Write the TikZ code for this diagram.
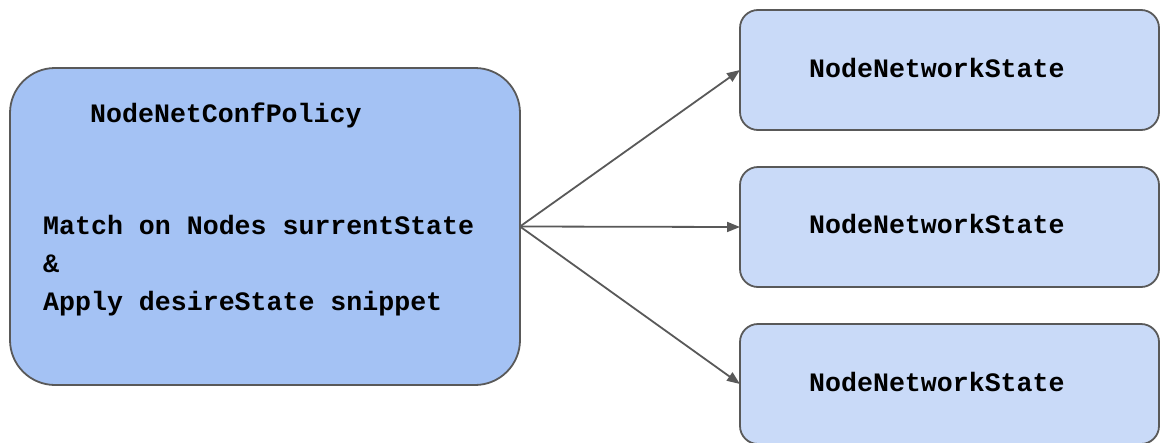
\documentclass[tikz,border=0pt]{standalone}
\usepackage{fontspec}
\setmonofont{Liberation Mono}
\usetikzlibrary{arrows.meta}
\definecolor{policyfill}{HTML}{A4C2F4}
\definecolor{statefill}{HTML}{C9DAF8}
\definecolor{edgegray}{HTML}{595959}
\tikzset{
  policybox/.style={draw=edgegray, line width=1.8pt, fill=policyfill,
    rounded corners=45pt, minimum width=510pt, minimum height=317pt,
    inner sep=0pt, outer sep=0pt},
  statebox/.style={draw=edgegray, line width=1.8pt, fill=statefill,
    rounded corners=18pt, minimum width=419pt, minimum height=120pt,
    inner sep=0pt, outer sep=0pt, anchor=north west},
  label/.style={font=\ttfamily\bfseries\fontsize{26.6}{38}\selectfont,
    anchor=base west, inner sep=0pt, text=black},
  flow/.style={draw=edgegray, line width=1.8pt,
    -{Triangle[length=13pt, width=10pt]}}
}
\begin{document}
\begin{tikzpicture}[x=1pt, y=1pt]
  \useasboundingbox (0,0) rectangle (1161,-442);
  \clip (0,0) rectangle (1161,-442);

  % policy box on the left
  \node[policybox] (policy) at (265,-226.5) {};
  \node[label] (ptitle) at (90,-122) {NodeNetConfPolicy};
  \node[label] (pl1) at (43,-234) {Match on Nodes surrentState};
  \node[label] (pl2) at (43,-272) {\&};
  \node[label] (pl3) at (43,-310) {Apply desireState snippet};

  % state boxes on the right
  \node[statebox] (s1) at (740,-10) {};
  \node[statebox] (s2) at (740,-167) {};
  \node[statebox] (s3) at (740,-324) {};
  \node[label] (t1) at (809,-77) {NodeNetworkState};
  \node[label] (t2) at (809,-233) {NodeNetworkState};
  \node[label] (t3) at (809,-391) {NodeNetworkState};

  % connectors
  \draw[flow] (policy.east) -- (s1.west);
  \draw[flow] (policy.east) -- (s2.west);
  \draw[flow] (policy.east) -- (s3.west);
\end{tikzpicture}
\end{document}
